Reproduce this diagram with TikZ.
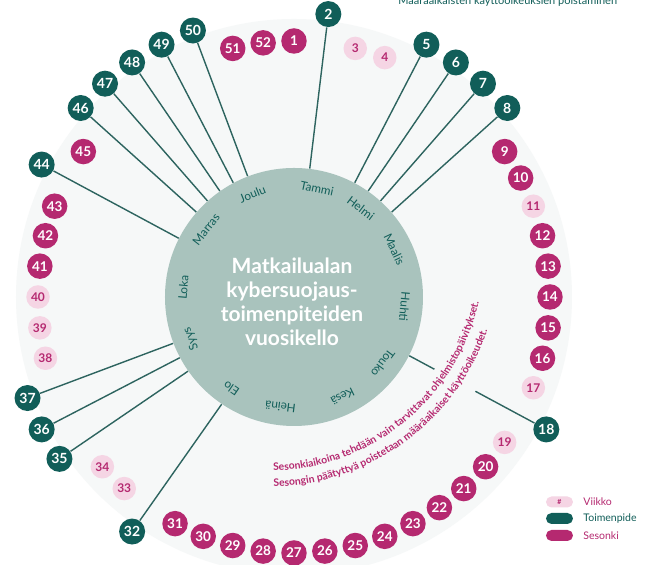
\documentclass[tikz,border=0pt]{standalone}
\usepackage{fontspec}
\setmainfont{Lato}
\usetikzlibrary{decorations.text}
\definecolor{teal1}{RGB}{17,94,89}
\definecolor{mag}{RGB}{181,41,112}
\definecolor{pinkl}{RGB}{245,213,228}
\definecolor{disk}{RGB}{169,195,189}
\definecolor{linec}{RGB}{45,100,95}
\definecolor{bgc}{RGB}{246,248,248}
% 1 unit = 1 px of the reference = 0.5pt
\tikzset{
 toim/.style={circle, fill=teal1, text=white, minimum size=13pt, inner sep=0pt, font=\bfseries\fontsize{7}{7}\selectfont},
 seso/.style={circle, fill=mag, text=white, minimum size=12.75pt, inner sep=0pt, font=\bfseries\fontsize{6.75}{7}\selectfont},
 viik/.style={circle, fill=pinkl, text=mag, minimum size=11.75pt, inner sep=0pt, font=\bfseries\fontsize{6}{6}\selectfont},
 spoke/.style={draw=linec, line width=0.7pt},
 month/.style={text=teal1, font=\fontsize{5.9}{6}\selectfont, inner sep=0pt},
 pill/.style={rounded corners=2.75pt, minimum width=13.5pt, minimum height=5.5pt, inner sep=0pt},
 legtext/.style={anchor=west, font=\fontsize{5.25}{5.5}\selectfont, inner sep=0pt},
}
\begin{document}
\begin{tikzpicture}[x=0.5pt,y=0.5pt]
\useasboundingbox (-294,-268) rectangle (356,297);
\fill[white] (-294,-268) rectangle (356,297);
\fill[bgc] (0,0) circle (278);
% top (cut) caption
\node[anchor=base west, inner sep=0pt, text=teal1, font=\fontsize{5.5}{6}\selectfont] (topcap) at (104,292) {Määräaikaisten käyttöoikeuksien poistaminen};
% central disk
\node[circle, fill=disk, minimum size=129pt, inner sep=0pt] (disk) at (0,0) {};
\node[text=white, align=center, font=\bfseries\fontsize{10.5}{12}\selectfont] (title) at (-2,-5) {Matkailualan\\kybersuojaus-\\toimenpiteiden\\vuosikello};
% month labels
\foreach \i/\name/\p in {1/Tammi/12,2/Helmi/37,3/Maalis/64.6,4/Huhti/95,5/Touko/126.6,6/Kesä/154,7/Heinä/187,8/Elo/214.5,9/Syys/248,10/Loka/275,11/Marras/307.6,12/Joulu/338}{
  \node[month, rotate=-\p] (m\i) at ({90-\p}:111) {\name};
}
% week circles
\foreach \n in {2,5,6,7,8,18,32,35,36,37,44,46,47,48,49,50}{
  \pgfmathsetmacro\ang{90-(\n-1)*6.9230769}
  \node[toim] (w\n) at (\ang:285) {\n};
  \draw[spoke] (w\n) -- (disk.\ang);
}
\foreach \n in {1,9,10,12,13,14,15,16,20,21,22,23,24,25,26,27,28,29,30,31,41,42,43,45,51,52}{
  \pgfmathsetmacro\ang{90-(\n-1)*6.9230769}
  \node[seso] (w\n) at (\ang:256) {\n};
}
\foreach \n in {3,4,11,17,19,33,34,38,39,40}{
  \pgfmathsetmacro\ang{90-(\n-1)*6.9230769}
  \node[viik] (w\n) at (\ang:256) {\n};
}
% knockout band behind season text
\draw[bgc, line width=23pt] ([shift={(-26,42)}]-44:225) arc[start angle=-44, end angle=-25, radius=225];
% season text
\path[decorate, decoration={text along path, text align=left, text color=mag,
  text={|\bfseries\fontsize{5.2}{5.5}\selectfont|Sesonkiaikoina tehdään vain tarvittavat ohjelmistopäivitykset.}}]
  ([shift={(-26,42)}]-88.6:216) arc[start angle=-88.6, end angle=5, radius=216];
\path[decorate, decoration={text along path, text align=left, text color=mag,
  text={|\bfseries\fontsize{5.2}{5.5}\selectfont|Sesongin päätyttyä poistetaan määräaikaiset käyttöoikeudet.}}]
  ([shift={(-26,42)}]-88.6:232) arc[start angle=-88.6, end angle=5, radius=232];
% legend
\node[pill, fill=pinkl, text=mag, font=\bfseries\fontsize{3.5}{4}\selectfont] (lv) at (265.5,-205) {\#};
\node[pill, fill=teal1] (lt) at (265.5,-221.5) {};
\node[pill, fill=mag] (ls) at (265.5,-238.5) {};
\node[legtext, text=mag] (lvt) at (289,-205) {Viikko};
\node[legtext, text=teal1] (ltt) at (289,-221.5) {Toimenpide};
\node[legtext, text=mag] (lst) at (289,-238.5) {Sesonki};
\end{tikzpicture}
\end{document}
